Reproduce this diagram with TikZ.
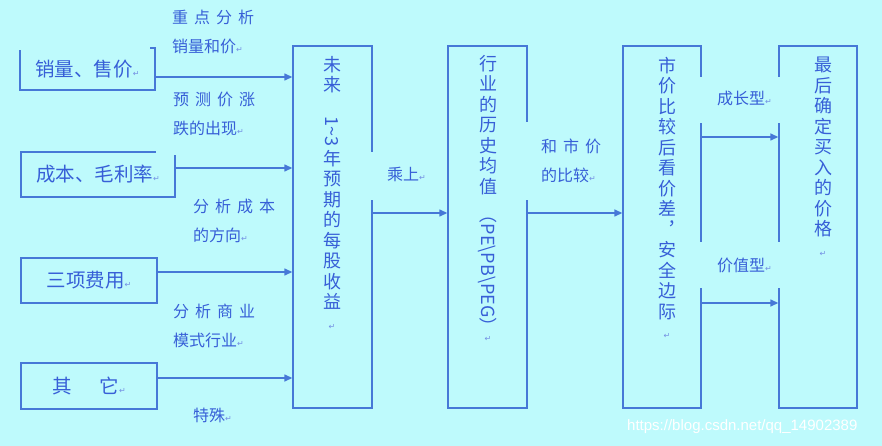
\documentclass[tikz,border=0pt]{standalone}
\usepackage{fontspec}
\usepackage{graphicx}
\setmainfont{Noto Sans CJK SC}
\newfontfamily\symf{DejaVu Sans}
\newfontfamily\wmf{Liberation Sans}
\usetikzlibrary{arrows.meta}
\definecolor{bg}{RGB}{190,250,252}
\definecolor{ln}{RGB}{70,120,215}
\definecolor{tx}{RGB}{55,95,215}
\newcommand\retmark{{\symf\fontsize{8}{8}\selectfont\color{tx!70}↵}}
\newcommand\gp{\hspace{6pt}}
\begin{document}
\begin{tikzpicture}[x=1pt,y=-1pt,
  box/.style={draw=ln,line width=1.4pt,inner sep=0pt,text=tx,font=\fontsize{19.5}{20}\selectfont},
  vtext/.style={anchor=north,align=center,inner sep=0pt,text=tx,font=\fontsize{18}{20.5}\selectfont},
  lbl/.style={anchor=west,align=left,inner sep=0pt,text=tx,font=\fontsize{16}{29}\selectfont},
  arr/.style={draw=ln,line width=1.4pt,-{Triangle[length=8pt,width=7pt]}},
  gap/.style={fill=bg}]
\useasboundingbox (0,0) rectangle (882,446);
\fill[bg] (0,0) rectangle (882,446);

% left boxes
\node[box,minimum width=135pt,minimum height=42pt] (b1) at (87.5,69) {销量、售价\retmark};
\node[box,minimum width=154pt,minimum height=45pt] (b2) at (98,174.5) {成本、毛利率\retmark};
\node[box,minimum width=136pt,minimum height=45pt] (b3) at (89,280.5) {三项费用\retmark};
\node[box,minimum width=136pt,minimum height=46pt] (b4) at (89,386) {其\hspace{28pt}它\retmark};

% tall boxes
\node[box,minimum width=79pt,minimum height=362pt] (b5) at (332.5,227) {};
\node[box,minimum width=79pt,minimum height=362pt] (b6) at (487.5,227) {};
\node[box,minimum width=78pt,minimum height=362pt] (b7) at (662,227) {};
\node[box,minimum width=78pt,minimum height=362pt] (b8) at (818,227) {};

% gaps in borders
\fill[gap] (16,44.5) rectangle (150,50.5);
\fill[gap] (156,149) rectangle (178,155);
\fill[gap] (369,152) rectangle (375,200);
\fill[gap] (524,122) rectangle (530,200);
\fill[gap] (698,77) rectangle (704,123);
\fill[gap] (698,242) rectangle (704,288);
\fill[gap] (776,77) rectangle (782,123);
\fill[gap] (776,242) rectangle (782,288);

% vertical texts
\node[vtext] (t5) at (332,56) {未\\来\\[4pt]\rotatebox{-90}{1\textasciitilde3}\\[3pt]年\\预\\期\\的\\每\\股\\收\\益\\\retmark};
\node[vtext] (t6) at (488,55) {行\\业\\的\\历\\史\\均\\值\\[-8pt]\rotatebox{-90}{（PE\textbackslash PB\textbackslash PEG）}\\\retmark};
\node[vtext] (t7) at (667,57) {市\\价\\比\\较\\后\\看\\价\\差\\︐\\安\\全\\边\\际\\\retmark};
\node[vtext] (t8) at (823,57) {最\\后\\确\\定\\买\\入\\的\\价\\格\\\retmark};

% arrow levels
\coordinate (y1) at (0,77);
\coordinate (y2) at (0,168);
\coordinate (y3) at (0,272);
\coordinate (y4) at (0,378);
\coordinate (y5) at (0,213);
\coordinate (y6) at (0,137);
\coordinate (y7) at (0,303);

\draw[arr] (b1.east |- y1) -- (b5.west |- y1);
\draw[arr] (b2.east |- y2) -- (b5.west |- y2);
\draw[arr] (b3.east |- y3) -- (b5.west |- y3);
\draw[arr] (b4.east |- y4) -- (b5.west |- y4);
\draw[arr] (b5.east |- y5) -- (b6.west |- y5);
\draw[arr] (b6.east |- y5) -- (b7.west |- y5);
\draw[arr] (b7.east |- y6) -- (b8.west |- y6);
\draw[arr] (b7.east |- y7) -- (b8.west |- y7);

% labels
\node[lbl] (l1) at (172,32) {重\gp 点\gp 分\gp 析\\销量和价\retmark};
\node[lbl] (l2) at (173,114) {预\gp 测\gp 价\gp 涨\\跌的出现\retmark};
\node[lbl] (l3) at (193,221) {分\gp 析\gp 成\gp 本\\的方向\retmark};
\node[lbl] (l4) at (173,326) {分\gp 析\gp 商\gp 业\\模式行业\retmark};
\node[lbl] (l5) at (193,415) {特殊\retmark};
\node[lbl] (l6) at (387,174) {乘上\retmark};
\node[lbl] (l7) at (541,161) {和\gp 市\gp 价\\的比较\retmark};
\node[lbl] (l8) at (717,98) {成长型\retmark};
\node[lbl] (l9) at (717,265) {价值型\retmark};

% watermark
\node[anchor=west,inner sep=0pt,text=white,font=\wmf\fontsize{15}{15}\selectfont] (wm) at (627,427) {https://blog.csdn.net/qq\_14902389};
\end{tikzpicture}
\end{document}
